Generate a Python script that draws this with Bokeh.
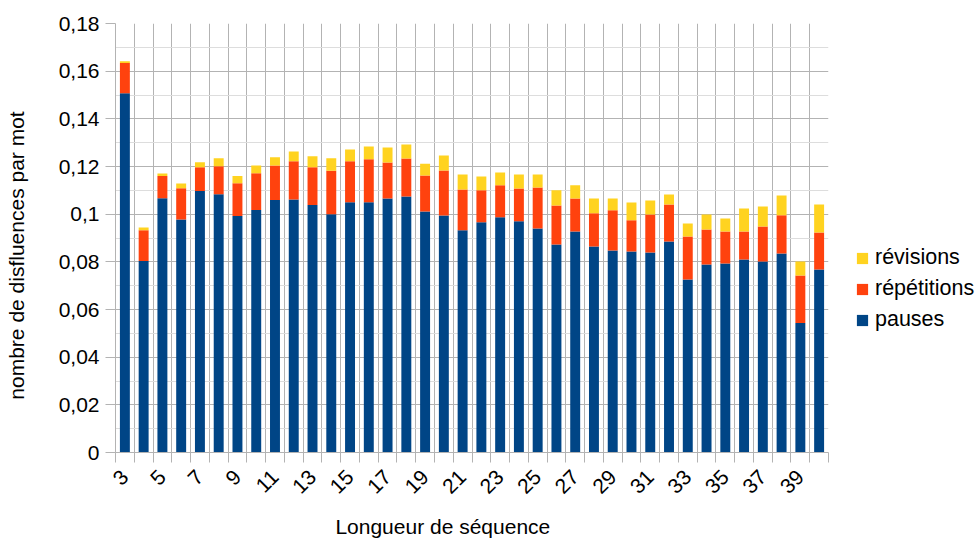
import math
from bokeh.plotting import figure
from bokeh.models import ColumnDataSource, FixedTicker, CustomJSTickFormatter, Legend, LegendItem, Title
from bokeh.embed import file_html
from bokeh.resources import INLINE

# ---- data ----
longueurs = [3, 4, 5, 6, 7, 8, 9, 10, 11, 12, 13, 14, 15, 16, 17, 18, 19, 20, 21,
             22, 23, 24, 25, 26, 27, 28, 29, 30, 31, 32, 33, 34, 35, 36, 37, 38, 39, 40]
pauses = [0.1507, 0.0803, 0.1067, 0.0978, 0.1097, 0.1084, 0.0992, 0.1017, 0.1059, 0.1062,
          0.1038, 0.1000, 0.1050, 0.1050, 0.1066, 0.1074, 0.1011, 0.0994, 0.0932, 0.0966,
          0.0987, 0.0970, 0.0940, 0.0873, 0.0927, 0.0864, 0.0848, 0.0843, 0.0839, 0.0885,
          0.0726, 0.0789, 0.0793, 0.0810, 0.0801, 0.0835, 0.0543, 0.0768]
repetitions = [0.0127, 0.0129, 0.0093, 0.0131, 0.0100, 0.0117, 0.0138, 0.0155, 0.0145, 0.0160,
               0.0159, 0.0182, 0.0172, 0.0180, 0.0151, 0.0160, 0.0151, 0.0189, 0.0172, 0.0134,
               0.0134, 0.0138, 0.0172, 0.0163, 0.0139, 0.0140, 0.0168, 0.0131, 0.0160, 0.0156,
               0.0180, 0.0147, 0.0134, 0.0117, 0.0147, 0.0160, 0.0200, 0.0155]
revisions = [0.0008, 0.0012, 0.0011, 0.0020, 0.0021, 0.0034, 0.0030, 0.0032, 0.0035, 0.0041,
             0.0046, 0.0053, 0.0049, 0.0054, 0.0063, 0.0058, 0.0050, 0.0063, 0.0062, 0.0058,
             0.0054, 0.0058, 0.0054, 0.0064, 0.0055, 0.0062, 0.0050, 0.0075, 0.0058, 0.0042,
             0.0055, 0.0063, 0.0055, 0.0097, 0.0084, 0.0083, 0.0058, 0.0118]
x_tick_values = [3, 5, 7, 9, 11, 13, 15, 17, 19, 21, 23, 25, 27, 29, 31, 33, 35, 37, 39]
y_tick_values = [0, 0.02, 0.04, 0.06, 0.08, 0.1, 0.12, 0.14, 0.16, 0.18]
y_tick_labels = ["0", "0,02", "0,04", "0,06", "0,08", "0,1", "0,12", "0,14", "0,16", "0,18"]
y_minor_values = [0.01, 0.03, 0.05, 0.07, 0.09, 0.11, 0.13, 0.15, 0.17]
x_boundaries = [b - 0.5 for b in longueurs] + [longueurs[-1] + 0.5]
series_names = ["pauses", "répétitions", "révisions"]
x_title = "Longueur de séquence"
y_title = "nombre de disfluences par mot"

NBSP = "\u00a0"
BLUE = "#004586"
RED = "#ff420e"
YELLOW = "#ffd320"
GRID = "#b3b3b3"
GRID_MINOR = "#dddddd"
FONT = "Liberation Sans"

src = ColumnDataSource(dict(x=longueurs, pauses=pauses, repetitions=repetitions, revisions=revisions))

p = figure(width=None, height=None, frame_width=713, frame_height=429,
           x_range=(2.5, 40.5), y_range=(0, 0.18),
           output_backend="svg", toolbar_location=None,
           min_border_left=115, min_border_right=151, min_border_top=23, min_border_bottom=0)
p.outline_line_color = None
p.background_fill_color = "white"

rs = p.vbar_stack(["pauses", "repetitions", "revisions"], x="x", width=0.53,
                  fill_color=[BLUE, RED, YELLOW], line_color=None, source=src)

# x axis
xa = p.xaxis[0]
xa.ticker = FixedTicker(ticks=x_tick_values, minor_ticks=x_boundaries)
xa.major_tick_line_color = None
xa.major_tick_out = 0
xa.major_tick_in = 0
xa.minor_tick_line_color = GRID
xa.minor_tick_out = 10
xa.minor_tick_in = 0
xa.axis_line_color = GRID
xa.major_label_orientation = math.pi / 4
xa.major_label_standoff = 11
xa.major_label_text_font = FONT
xa.major_label_text_font_size = "21px"
xa.major_label_text_color = "black"

# trailing non-breaking spaces shift the centred title like in the original layout
p.add_layout(Title(text=x_title + NBSP * 10, align="center", text_font=FONT, text_font_size="21px",
                   text_font_style="normal", text_color="black", standoff=21), "below")

# y axis
ya = p.yaxis[0]
ya.ticker = FixedTicker(ticks=y_tick_values, minor_ticks=y_minor_values)
ya.formatter = CustomJSTickFormatter(args=dict(vals=y_tick_values, labs=y_tick_labels), code="""
    for (let i = 0; i < vals.length; i++) { if (Math.abs(vals[i] - tick) < 1e-9) return labs[i]; }
    return '';
""")
ya.major_tick_line_color = GRID
ya.major_tick_out = 10
ya.major_tick_in = 0
ya.minor_tick_line_color = None
ya.axis_line_color = GRID
ya.major_label_standoff = 6
ya.major_label_text_font = FONT
ya.major_label_text_font_size = "21px"
ya.major_label_text_color = "black"
ya.axis_label = y_title + NBSP * 6
ya.axis_label_text_font = FONT
ya.axis_label_text_font_size = "21px"
ya.axis_label_text_font_style = "normal"
ya.axis_label_text_color = "black"
ya.axis_label_standoff = 28

# grids
p.xgrid.ticker = FixedTicker(ticks=x_boundaries)
p.xgrid.grid_line_color = GRID
p.ygrid.ticker = FixedTicker(ticks=y_tick_values, minor_ticks=y_minor_values)
p.ygrid.grid_line_color = GRID
p.ygrid.minor_grid_line_color = GRID_MINOR

legend = Legend(items=[LegendItem(label=series_names[2], renderers=[rs[2]]),
                       LegendItem(label=series_names[1], renderers=[rs[1]]),
                       LegendItem(label=series_names[0], renderers=[rs[0]])],
                location=(27, 120))
legend.background_fill_alpha = 0
legend.border_line_color = None
legend.padding = 0
legend.margin = 0
legend.spacing = 6
legend.glyph_width = 14
legend.glyph_height = 14
legend.label_standoff = 6
legend.label_text_font = FONT
legend.label_text_font_size = "21.5px"
legend.label_text_color = "black"
p.add_layout(legend, "right")

open("out.html", "w").write(file_html(p, INLINE))
